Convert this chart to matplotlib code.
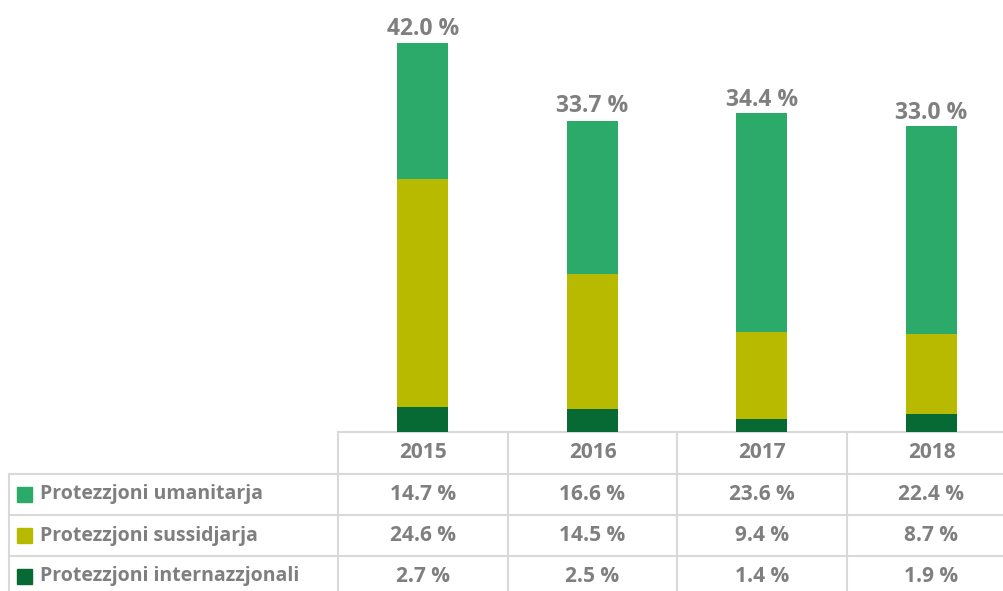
import matplotlib.pyplot as plt
from matplotlib.patches import Rectangle

plt.rcParams['font.family'] = ['Open Sans', 'DejaVu Sans']

years = ['2015', '2016', '2017', '2018']
series = ['Protezzjoni umanitarja', 'Protezzjoni sussidjarja', 'Protezzjoni internazzjonali']
umanitarja = [14.7, 16.6, 23.6, 22.4]
sussidjarja = [24.6, 14.5, 9.4, 8.7]
internazzjonali = [2.7, 2.5, 1.4, 1.9]
totals = [42.0, 33.7, 34.4, 33.0]

colors = ['#2BAA6A', '#B8BA00', '#076A35']
gray = '#7F7F7F'
line_c = '#D9D9D9'

W, H = 1004, 591
fig = plt.figure(figsize=(W / 100, H / 100), dpi=100)

# pixel-coordinate overlay for the data table
tab = fig.add_axes([0, 0, 1, 1])
tab.set_xlim(0, W)
tab.set_ylim(H, 0)
tab.axis('off')

col_x = [338, 508, 677, 847, 1016]
row_y = [432, 474, 515, 556, 597]

# bar axes, aligned with the table columns
x0, x1, ytop, ybot = 338, 1016, 15, 432
ax = fig.add_axes([x0 / W, (H - ybot) / H, (x1 - x0) / W, (ybot - ytop) / H])
ax.set_xlim(-0.5, 3.5)
ax.set_ylim(0, 45)
ax.axis('off')

xs = range(len(years))
bw = 0.3
ax.bar(xs, internazzjonali, bw, color=colors[2])
ax.bar(xs, sussidjarja, bw, bottom=internazzjonali, color=colors[1])
base = [a + b for a, b in zip(internazzjonali, sussidjarja)]
ax.bar(xs, umanitarja, bw, bottom=base, color=colors[0])

for i, t in enumerate(totals):
    ax.annotate(f'{t:.1f} %', (i, t), xytext=(0, 1), textcoords='offset points',
                ha='center', va='bottom', fontsize=16.5, fontweight='bold', color=gray)

# table grid
tab.plot([col_x[0], col_x[-1]], [row_y[0], row_y[0]], color=line_c, lw=1.5)
for y in row_y[1:4]:
    tab.plot([9, col_x[-1]], [y, y], color=line_c, lw=1.5)
for x in col_x[:4]:
    tab.plot([x, x], [row_y[0], H], color=line_c, lw=1.5)
tab.plot([9, 9], [row_y[1], H], color=line_c, lw=1.5)

fs = 15
for j, yr in enumerate(years):
    cx = (col_x[j] + col_x[j + 1]) / 2
    tab.text(cx, (row_y[0] + row_y[1]) / 2, yr, ha='center', va='center',
             fontsize=fs, fontweight='bold', color=gray)

rows = [umanitarja, sussidjarja, internazzjonali]
for r, (name, vals) in enumerate(zip(series, rows)):
    cy = (row_y[r + 1] + row_y[r + 2]) / 2
    tab.add_patch(Rectangle((17, cy - 8), 15, 15, color=colors[r]))
    tab.text(40, cy, name, ha='left', va='center', fontsize=14,
             fontweight='bold', color=gray)
    for j, v in enumerate(vals):
        cx = (col_x[j] + col_x[j + 1]) / 2
        tab.text(cx, cy, f'{v:.1f} %', ha='center', va='center',
                 fontsize=fs, fontweight='bold', color=gray)

fig.savefig('out.png', dpi=100)
